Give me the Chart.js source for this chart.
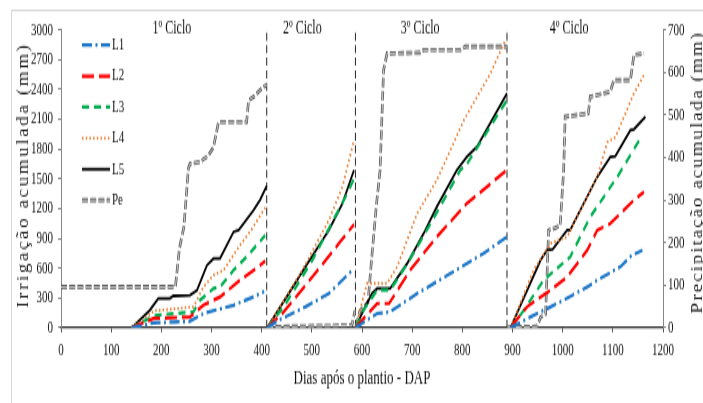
<!DOCTYPE html>
<html><head><meta charset="utf-8">
<script src="https://cdn.jsdelivr.net/npm/chart.js@4.4.1/dist/chart.umd.min.js"></script>
<style>
html,body{margin:0;padding:0;background:#fff;overflow:hidden}
#c{display:block;width:703px;height:403px}
</style>
</head><body>
<canvas id="c" width="703" height="252" style="width:703px;height:403px"></canvas>
<script>
// ---- data (x = DAP, y = mm), one sub-array per cycle ----
const seriesNames = ['L1', 'L2', 'L3', 'L4', 'L5', 'Pe'];
const cycleLabels = ['1º Ciclo', '2º Ciclo', '3º Ciclo', '4º Ciclo'];
const cycleLabelDap = [221, 481, 716, 1013];
const dividerDap = [410, 587, 889];
const xTitle = 'Dias após o plantio - DAP';
const yTitle = 'Irrigação acumulada (mm)';
const y2Title = 'Precipitação acumulada (mm)';

const L1 = [
  [[141,0],[160,20],[185,50],[224,58],[255,62],[285,145],[310,180],[344,227],[384,310],[405,365]],
  [[411,0],[434,76],[487,210],[534,345],[584,597]],
  [[587,0],[630,143],[656,160],[710,345],[776,546],[842,748],[889,915]],
  [[896,0],[936,109],[976,210],[995,260],[1049,411],[1069,479],[1115,613],[1138,731],[1159,781]]
];
const L2 = [
  [[141,0],[165,50],[184,93],[257,109],[284,227],[317,310],[357,479],[384,580],[407,670]],
  [[411,0],[441,143],[501,512],[554,849],[584,1040]],
  [[587,0],[630,244],[654,244],[696,580],[749,915],[809,1252],[889,1590]],
  [[896,0],[929,210],[956,310],[976,378],[1009,512],[1049,781],[1069,983],[1095,1050],[1142,1285],[1162,1369]]
];
const L3 = [
  [[141,0],[170,80],[191,126],[264,160],[277,277],[304,395],[317,411],[344,580],[370,714],[407,930]],
  [[411,0],[444,210],[501,680],[567,1318],[584,1500]],
  [[587,0],[603,176],[630,378],[656,378],[690,640],[733,1016],[796,1588],[809,1650],[889,2293]],
  [[896,0],[918,143],[962,479],[1015,714],[1055,1117],[1109,1521],[1159,1941]]
];
const L4 = [
  [[141,0],[165,80],[185,170],[264,210],[284,411],[304,529],[324,580],[357,832],[380,990],[407,1210]],
  [[411,0],[481,580],[534,1084],[561,1419],[584,1890]],
  [[587,0],[610,446],[650,446],[670,613],[710,1151],[749,1487],[803,2092],[856,2562],[886,2898]],
  [[896,0],[942,580],[976,849],[1009,915],[1069,1521],[1089,1870],[1105,1920],[1142,2361],[1162,2545]]
];
const L5 = [
  [[141,0],[177,176],[194,294],[217,294],[224,321],[257,327],[271,378],[291,630],[304,697],[317,697],[344,966],[354,983],[384,1184],[397,1290],[410,1430]],
  [[411,0],[454,345],[487,613],[534,983],[561,1252],[584,1588]],
  [[587,0],[603,176],[620,345],[630,395],[656,395],[690,647],[723,950],[749,1218],[789,1588],[809,1722],[829,1823],[889,2361]],
  [[896,0],[956,680],[969,781],[980,790],[1009,983],[1015,983],[1069,1521],[1095,1722],[1105,1730],[1135,1991],[1142,2000],[1165,2125]]
];
const Pe = [
  [[0,96],[228,96],[236,186],[245,237],[254,375],[257,385],[277,390],[294,405],[304,425],[314,484],[370,484],[374,535],[384,543],[404,567],[410,570]],
  [[411,2],[470,3],[560,5],[580,6],[586,40]],
  [[588,2],[596,40],[612,60],[619,159],[629,292],[636,370],[640,504],[643,606],[650,645],[716,647],[723,653],[796,653],[806,661],[889,661]],
  [[890,0],[916,2],[949,3],[956,25],[966,33],[972,229],[982,233],[995,240],[1002,371],[1005,496],[1051,504],[1055,543],[1095,555],[1102,582],[1135,582],[1142,641],[1162,645]]
];

// ---- build helpers ----
function withGaps(cycles) {
  const out = [];
  cycles.forEach((c, i) => {
    if (i > 0) out.push({x: c[0][0], y: null});
    c.forEach(p => out.push({x: p[0], y: p[1]}));
  });
  return out;
}
function dividerPoints() {
  const out = [];
  dividerDap.forEach((d, i) => {
    if (i > 0) out.push({x: d, y: null});
    out.push({x: d, y: 0}, {x: d, y: 3000});
  });
  return out;
}

const STRETCH = 403 / 252;
const FONT = "'Liberation Serif', 'Times New Roman', serif";
const styles = {
  L1: {color: '#1F78C8', dash: [10, 3.5, 2, 3.5], width: 2.2},
  L2: {color: '#FF0000', dash: [12, 5], width: 2.2},
  L3: {color: '#00B050', dash: [7, 5], width: 2.2},
  L4: {color: '#ED7D31', dash: [1.5, 2.2], width: 1.8},
  L5: {color: '#000000', dash: [], width: 1.8},
  Pe: {color: '#555555', dash: [6, 2.2], width: 2.6}
};
const seriesData = {L1, L2, L3, L4, L5, Pe};

const datasets = seriesNames.map((n, i) => ({
  label: n,
  data: withGaps(seriesData[n]),
  yAxisID: n === 'Pe' ? 'y2' : 'y',
  borderColor: styles[n].color,
  borderWidth: styles[n].width,
  borderDash: styles[n].dash,
  pointRadius: 0,
  tension: 0,
  fill: false,
  spanGaps: false,
  order: n === 'Pe' ? 10 : i
}));
datasets.push({
  label: 'ciclos',
  data: dividerPoints(),
  yAxisID: 'y',
  borderColor: '#333333',
  borderWidth: 1.1,
  borderDash: [5, 2.8],
  pointRadius: 0,
  spanGaps: false,
  order: 20
});

const frame = {
  id: 'frame',
  beforeDraw(chart) {
    const ctx = chart.ctx;
    ctx.save();
    ctx.fillStyle = '#fff';
    ctx.fillRect(0, 0, chart.width, chart.height);
    ctx.strokeStyle = '#d8d8d8';
    ctx.lineWidth = 1;
    ctx.beginPath();
    ctx.moveTo(11.5, chart.height);
    ctx.lineTo(11.5, 6.5);
    ctx.lineTo(chart.width, 6.5);
    ctx.stroke();
    ctx.restore();
  }
};

const peCore = {
  id: 'peCore',
  afterDatasetDraw(chart, args) {
    if (chart.data.datasets[args.index].label !== 'Pe') return;
    const el = args.meta.dataset;
    const o = el.options;
    const c = o.borderColor, w = o.borderWidth;
    try {
      o.borderColor = '#dcdcdc';
      o.borderWidth = 0.9;
      el.draw(chart.ctx, chart.chartArea);
    } catch (e) {}
    o.borderColor = c;
    o.borderWidth = w;
  }
};

// along-length stretch on screen = 1.2
function drawVerticalTitle(ctx, text, x, y, spacing) {
  ctx.save();
  ctx.translate(x, y);
  ctx.rotate(-Math.PI / 2);
  ctx.scale(1.2 / STRETCH, 1);
  ctx.font = '16px ' + FONT;
  ctx.fillStyle = '#1a1a1a';
  ctx.textAlign = 'center';
  ctx.textBaseline = 'middle';
  try { ctx.letterSpacing = spacing + 'px'; } catch (e) {}
  ctx.fillText(text, spacing / 2, 0);
  ctx.restore();
}

const annotations = {
  id: 'annotations',
  afterDraw(chart) {
    const ctx = chart.ctx;
    const xs = chart.scales.x;
    const area = chart.chartArea;
    ctx.save();
    ctx.fillStyle = '#111';
    ctx.font = '12px ' + FONT;
    ctx.textAlign = 'center';
    ctx.textBaseline = 'middle';
    cycleLabels.forEach((t, i) => {
      ctx.fillText(t, xs.getPixelForValue(cycleLabelDap[i]), area.top - 1);
    });
    const lx0 = 82, lx1 = 110;
    seriesNames.forEach((n, i) => {
      const y = area.top + 9.4 + i * 19.4;
      const s = styles[n];
      ctx.strokeStyle = s.color;
      ctx.lineWidth = s.width;
      ctx.setLineDash(s.dash);
      ctx.beginPath();
      ctx.moveTo(lx0, y);
      ctx.lineTo(lx1, y);
      ctx.stroke();
      if (n === 'Pe') {
        ctx.strokeStyle = '#dcdcdc';
        ctx.lineWidth = 0.9;
        ctx.beginPath();
        ctx.moveTo(lx0, y);
        ctx.lineTo(lx1, y);
        ctx.stroke();
      }
      ctx.setLineDash([]);
      ctx.fillStyle = '#111';
      ctx.font = '11px ' + FONT;
      ctx.textAlign = 'left';
      ctx.fillText(n, lx1 + 2, y);
    });
    ctx.restore();
    const yc = (area.top + area.bottom) / 2 - 1.5;
    drawVerticalTitle(ctx, yTitle, 23.5, yc, 2.1);
    drawVerticalTitle(ctx, y2Title, 698, yc - 2, 1.6);
  }
};

const tickFont = {family: FONT, size: 11, weight: 'normal'};
const plain = v => String(v);
new Chart(document.getElementById('c'), {
  type: 'line',
  data: {datasets},
  plugins: [frame, peCore, annotations],
  options: {
    responsive: false,
    maintainAspectRatio: false,
    animation: false,
    devicePixelRatio: 1,
    layout: {padding: {top: 18.76, left: 0, right: 0, bottom: 0}},
    plugins: {legend: {display: false}, tooltip: {enabled: false}},
    scales: {
      x: {
        type: 'linear', min: 0, max: 1200,
        ticks: {stepSize: 100, color: '#111', font: tickFont, padding: 5, maxRotation: 0, callback: plain},
        grid: {display: true, drawOnChartArea: false, drawTicks: true, tickLength: 3, color: '#555'},
        border: {display: true, color: '#333', width: 1.3},
        title: {display: true, text: xTitle, color: '#111', font: {family: FONT, size: 13, weight: 'normal'}, padding: {top: 0, bottom: 8}},
        afterFit(s) { s.height = 252 - 204.9; }
      },
      y: {
        position: 'left', min: 0, max: 3000,
        ticks: {stepSize: 300, color: '#111', font: tickFont, padding: 5, callback: plain},
        grid: {display: true, drawOnChartArea: false, drawTicks: true, tickLength: 3, color: '#888'},
        border: {display: true, color: '#888', width: 1},
        title: {display: false, text: yTitle},
        afterFit(s) { s.width = 61; }
      },
      y2: {
        position: 'right', min: 0, max: 700,
        ticks: {stepSize: 100, color: '#111', font: tickFont, padding: 2, callback: plain},
        grid: {display: true, drawOnChartArea: false, drawTicks: true, tickLength: 3, color: '#888'},
        border: {display: true, color: '#888', width: 1},
        title: {display: false, text: y2Title},
        afterFit(s) { s.width = 40; }
      }
    }
  }
});
</script>
</body></html>
